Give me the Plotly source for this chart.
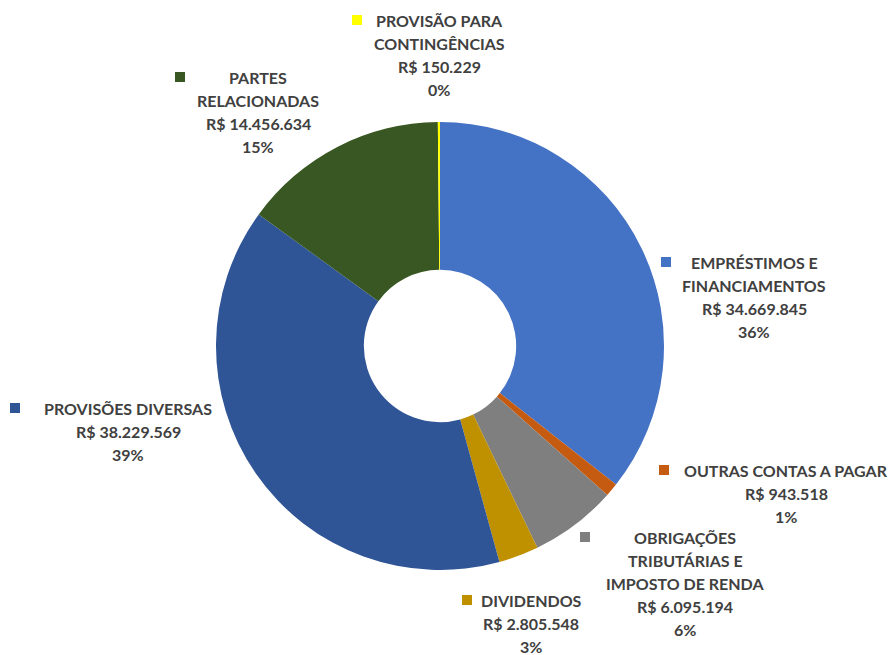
import plotly.graph_objects as go

W, H = 896, 655
OFF = 8  # the page body margin shifts the figure by 8px

categories = [
    "EMPRÉSTIMOS E<br>FINANCIAMENTOS",
    "OUTRAS CONTAS A PAGAR",
    "OBRIGAÇÕES<br>TRIBUTÁRIAS E<br>IMPOSTO DE RENDA",
    "DIVIDENDOS",
    "PROVISÕES DIVERSAS",
    "PARTES<br>RELACIONADAS",
    "PROVISÃO PARA<br>CONTINGÊNCIAS",
]
values = [34669845, 943518, 6095194, 2805548, 38229569, 14456634, 150229]
value_labels = ["R$ 34.669.845", "R$ 943.518", "R$ 6.095.194", "R$ 2.805.548",
                "R$ 38.229.569", "R$ 14.456.634", "R$ 150.229"]
pct_labels = ["36%", "1%", "6%", "3%", "39%", "15%", "0%"]
colors = ["#4472C4", "#C55A11", "#7F7F7F", "#BF9000", "#2F5597", "#385723", "#FFFF00"]

# label block: (center x px, first line y px, legend key x px)
label_pos = [
    (754, 262, 666),
    (786, 470, 664),
    (685, 537, 585),
    (531, 600, 467),
    (128, 408, 15),
    (258, 77, 180),
    (439, 20, 357),
]
LINE = 23.2


def px(x):
    return (x - OFF) / W


def py(y):
    return 1 - (y - OFF) / H


cx, cy, r = 440, 346, 224

fig = go.Figure(go.Pie(
    labels=[c.replace("<br>", " ") for c in categories],
    values=values,
    marker=dict(colors=colors),
    hole=0.34,
    sort=False,
    direction="clockwise",
    rotation=0,
    textinfo="none",
    showlegend=False,
    domain=dict(x=[px(cx - r), px(cx + r)], y=[py(cy + r), py(cy - r)]),
))

font = dict(family="Lato", size=16, color="#404040")
for cat, vl, pl, col, (lx, ly, kx) in zip(categories, value_labels, pct_labels, colors, label_pos):
    lines = cat.split("<br>") + [vl, pl]
    for i, line in enumerate(lines):
        fig.add_annotation(
            x=px(lx), y=py(ly + i * LINE), xref="paper", yref="paper",
            xanchor="center", yanchor="middle",
            text=f"<b>{line}</b>",
            showarrow=False, font=font,
        )
    fig.add_shape(
        type="rect", xref="paper", yref="paper",
        x0=px(kx - 5), x1=px(kx + 5), y0=py(ly + 5), y1=py(ly - 5),
        fillcolor=col, line=dict(width=0),
    )

fig.update_layout(
    width=W, height=H,
    margin=dict(l=0, r=0, t=0, b=0),
    paper_bgcolor="white",
    plot_bgcolor="white",
)

fig.write_html("out.html")
